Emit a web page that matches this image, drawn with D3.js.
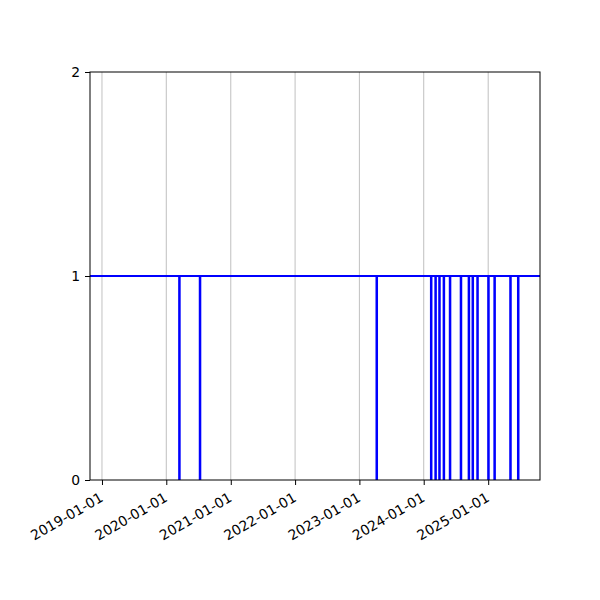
<!DOCTYPE html>
<html lang="en">
<head>
  <meta charset="utf-8">
  <title>status</title>
  <script src="https://cdn.jsdelivr.net/npm/d3@7"></script>
  <style>
    body { margin: 0; background: #fff; }
    text { font-family: "DejaVu Sans", sans-serif; }
  </style>
</head>
<body>
  <div id="chart"></div>
  <script>
    // days on which the value drops to 0 (otherwise 1)
    var dipDates = [
      "2020-03-14", "2020-07-09", "2023-04-08",
      "2024-02-11", "2024-03-07", "2024-03-29", "2024-04-23", "2024-05-28",
      "2024-07-29", "2024-09-12", "2024-10-04", "2024-10-31",
      "2025-01-01", "2025-02-05", "2025-05-06", "2025-06-19"
    ];
    var xStart = "2018-10-25", xEnd = "2025-10-22";
    var tickYears = ["2019-01-01", "2020-01-01", "2021-01-01", "2022-01-01",
      "2023-01-01", "2024-01-01", "2025-01-01"];
    var yTicks = [0, 1, 2];

    var parse = d3.timeParse("%Y-%m-%d");
    var margin = { top: 72, right: 60, bottom: 120, left: 90 },
      width = 600 - margin.left - margin.right,
      height = 600 - margin.top - margin.bottom;

    var svg = d3.select("#chart").append("svg")
      .attr("width", 600).attr("height", 600);
    var g = svg.append("g")
      .attr("transform", "translate(" + margin.left + "," + margin.top + ")");

    var x = d3.scaleTime().domain([parse(xStart), parse(xEnd)]).range([0, width]);
    var y = d3.scaleLinear().domain([0, 2]).range([height, 0]);

    // vertical grid
    g.selectAll(".grid").data(tickYears).enter().append("line")
      .attr("x1", function (d) { return x(parse(d)); })
      .attr("x2", function (d) { return x(parse(d)); })
      .attr("y1", 0).attr("y2", height)
      .attr("stroke", "#b0b0b0").attr("stroke-width", 0.8);

    // step series: 1, dropping to 0 at each dip
    var pts = [[parse(xStart), 1]];
    dipDates.forEach(function (d) {
      var t = parse(d);
      pts.push([t, 0]);
      pts.push([d3.timeDay.offset(t, 3), 1]);
    });
    pts.push([parse(xEnd), 1]);

    g.append("clipPath").attr("id", "clip").append("rect")
      .attr("width", width).attr("height", height);
    g.append("path").datum(pts)
      .attr("clip-path", "url(#clip)")
      .attr("fill", "none").attr("stroke", "#0000ff").attr("stroke-width", 2)
      .attr("d", d3.line()
        .x(function (d) { return x(d[0]); })
        .y(function (d) { return y(d[1]); })
        .curve(d3.curveStepAfter));

    // frame
    g.append("rect").attr("width", width).attr("height", height)
      .attr("fill", "none").attr("stroke", "#000").attr("stroke-width", 1);

    var xAxis = g.append("g").attr("transform", "translate(0," + height + ")")
      .call(d3.axisBottom(x).tickValues(tickYears.map(parse))
        .tickFormat(d3.timeFormat("%Y-%m-%d")).tickSize(5).tickPadding(4));
    xAxis.select(".domain").remove();
    xAxis.selectAll("text")
      .attr("font-size", 13.9).attr("fill", "#000")
      .attr("text-anchor", "end")
      .attr("dy", "0.35em")
      .attr("transform", "translate(-2,10) rotate(-30)")
      .attr("x", -2).attr("y", 6);

    var yAxis = g.append("g")
      .call(d3.axisLeft(y).tickValues(yTicks).tickFormat(d3.format("d"))
        .tickSize(5).tickPadding(5));
    yAxis.select(".domain").remove();
    yAxis.selectAll("text").attr("font-size", 13.9).attr("fill", "#000");
  </script>
</body>
</html>
